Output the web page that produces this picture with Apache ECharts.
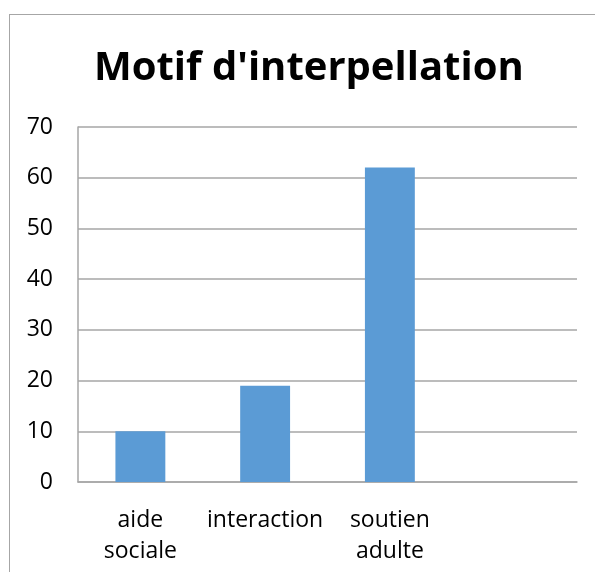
<!DOCTYPE html>
<html>
<head>
<meta charset="utf-8">
<script src="https://cdn.jsdelivr.net/npm/echarts@6/dist/echarts.min.js"></script>
<style>
  html, body { margin: 0; padding: 0; background: #fff; overflow: hidden; }
  #divWrap { position: relative; width: 595px; height: 572px; overflow: hidden; }
  #divFrame { position: absolute; left: 9px; top: 14px; width: 700px; height: 700px;
              border-left: 1.5px solid #a6a6a6; border-top: 1.5px solid #a6a6a6; }
  #divChart { position: absolute; left: 0; top: 0; width: 595px; height: 572px; }
</style>
</head>
<body>
<div id="divWrap">
  <div id="divFrame"></div>
  <div id="divChart"></div>
</div>
<script>
// chart data
var arrCategories = ['aide\nsociale', 'interaction', 'soutien\nadulte', ''];
var arrValues = [10, 19, 62, null];
var strTitle = "Motif d'interpellation";

var chartBar = echarts.init(document.getElementById('divChart'));
var strFont = '"Open Sans", "Noto Sans", sans-serif';

var optBar = {
    animation: false,
    title: {
        text: strTitle,
        left: 89,
        top: 44,
        textStyle: {
            fontFamily: strFont,
            fontWeight: 'bold',
            fontSize: 40,
            color: '#000'
        }
    },
    grid: {
        left: 78,
        right: 18,
        top: 127,
        bottom: 90,
        containLabel: false
    },
    xAxis: {
        type: 'category',
        data: arrCategories,
        axisLine: { lineStyle: { color: '#a6a6a6', width: 1.5 } },
        axisTick: { show: false },
        axisLabel: {
            fontFamily: strFont,
            fontSize: 23,
            color: '#000',
            lineHeight: 31,
            margin: 23,
            interval: 0
        }
    },
    yAxis: {
        type: 'value',
        min: 0,
        max: 70,
        interval: 10,
        axisLine: { show: true, lineStyle: { color: '#a6a6a6', width: 1.5 } },
        axisTick: { show: false },
        splitLine: { lineStyle: { color: '#a6a6a6', width: 1.5 } },
        axisLabel: {
            fontFamily: strFont,
            fontSize: 23,
            color: '#000',
            margin: 25
        }
    },
    series: [{
        type: 'bar',
        data: arrValues,
        barWidth: '40%',
        itemStyle: { color: '#5b9bd5' }
    }]
};
chartBar.setOption(optBar);
</script>
</body>
</html>
